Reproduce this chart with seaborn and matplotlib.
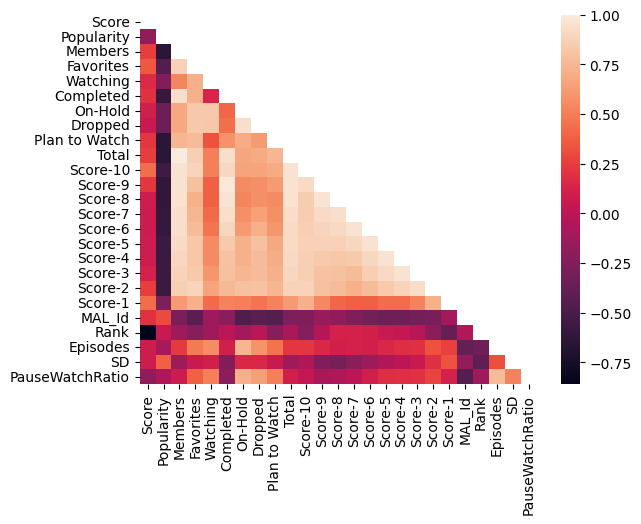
import numpy as np
import pandas as pd
import matplotlib
matplotlib.use("Agg")
import matplotlib.pyplot as plt
import seaborn as sns

labels = ["Score", "Popularity", "Members", "Favorites", "Watching", "Completed",
          "On-Hold", "Dropped", "Plan to Watch", "Total", "Score-10", "Score-9",
          "Score-8", "Score-7", "Score-6", "Score-5", "Score-4", "Score-3",
          "Score-2", "Score-1", "MAL_Id", "Rank", "Episodes", "SD", "PauseWatchRatio"]

# lower-triangle rows (correlation with each earlier column)
r_popularity = [-0.18]
r_members = [0.25, -0.65]
r_favorites = [0.35, -0.46, 0.87]
r_watching = [0.16, -0.25, 0.53, 0.72]
r_completed = [0.20, -0.59, 0.94, 0.72, 0.14]
r_onhold = [0.10, -0.35, 0.68, 0.83, 0.83, 0.40]
r_dropped = [0.06, -0.35, 0.68, 0.83, 0.82, 0.44, 0.94]
r_plan = [0.22, -0.65, 0.74, 0.77, 0.33, 0.58, 0.70, 0.62]
r_total = [0.25, -0.65, 1.00, 0.86, 0.50, 0.94, 0.67, 0.69, 0.74]
r_s10 = [0.43, -0.55, 0.95, 0.89, 0.50, 0.90, 0.66, 0.66, 0.69, 0.95]
r_s9 = [0.22, -0.62, 0.95, 0.79, 0.38, 0.98, 0.55, 0.57, 0.62, 0.95, 0.92]
r_s8 = [0.08, -0.62, 0.95, 0.72, 0.38, 0.96, 0.53, 0.57, 0.55, 0.95, 0.85, 0.96]
r_s7 = [0.07, -0.60, 0.94, 0.74, 0.42, 0.94, 0.57, 0.65, 0.57, 0.93, 0.85, 0.92, 0.94]
r_s6 = [0.07, -0.60, 0.94, 0.77, 0.46, 0.90, 0.62, 0.72, 0.60, 0.92, 0.86, 0.89, 0.91, 0.95]
r_s5 = [0.08, -0.57, 0.92, 0.82, 0.55, 0.84, 0.72, 0.79, 0.68, 0.92, 0.87, 0.87, 0.87, 0.90, 0.95]
r_s4 = [0.08, -0.57, 0.90, 0.82, 0.55, 0.80, 0.72, 0.77, 0.70, 0.91, 0.86, 0.84, 0.82, 0.84, 0.90, 0.95]
r_s3 = [0.12, -0.57, 0.88, 0.84, 0.60, 0.79, 0.74, 0.77, 0.72, 0.90, 0.86, 0.80, 0.79, 0.77, 0.86, 0.91, 0.95]
r_s2 = [0.25, -0.57, 0.86, 0.89, 0.66, 0.76, 0.79, 0.80, 0.74, 0.88, 0.88, 0.79, 0.77, 0.72, 0.77, 0.84, 0.88, 0.93]
r_s1 = [0.43, -0.27, 0.62, 0.72, 0.42, 0.52, 0.50, 0.46, 0.52, 0.62, 0.72, 0.54, 0.40, 0.38, 0.38, 0.43, 0.43, 0.52, 0.72]
r_malid = [0.20, 0.30, -0.28, -0.42, -0.12, -0.22, -0.47, -0.42, -0.45, -0.27, -0.25, -0.15,
           -0.18, -0.25, -0.31, -0.34, -0.34, -0.31, -0.29, -0.10]
r_rank = [-0.86, 0.06, -0.12, -0.23, -0.12, 0.00, -0.10, 0.00, -0.23, -0.08, -0.23, -0.03,
          0.12, 0.12, 0.10, 0.06, 0.04, -0.02, -0.22, -0.38, -0.04]
r_episodes = [0.08, -0.09, 0.23, 0.48, 0.56, 0.10, 0.74, 0.59, 0.45, 0.22, 0.22, 0.15,
              0.10, 0.12, 0.10, 0.15, 0.18, 0.19, 0.33, 0.26, -0.38, -0.33]
r_sd = [0.08, 0.38, -0.14, 0.06, 0.10, -0.25, 0.15, 0.15, 0.06, -0.12, -0.05, -0.25,
        -0.30, -0.22, -0.14, -0.05, 0.00, 0.06, 0.19, 0.33, -0.17, -0.40, 0.31]
r_pwr = [-0.18, -0.05, 0.07, 0.38, 0.50, -0.20, 0.72, 0.64, 0.50, 0.10, 0.04, -0.07,
         -0.05, 0.00, 0.10, 0.18, 0.19, 0.20, 0.28, 0.12, -0.45, -0.12, 0.77, 0.52]

rows = [[], r_popularity, r_members, r_favorites, r_watching, r_completed, r_onhold,
        r_dropped, r_plan, r_total, r_s10, r_s9, r_s8, r_s7, r_s6, r_s5, r_s4, r_s3,
        r_s2, r_s1, r_malid, r_rank, r_episodes, r_sd, r_pwr]

n = len(labels)
mat = np.eye(n)
for i, row in enumerate(rows):
    for j, v in enumerate(row):
        mat[i, j] = v
        mat[j, i] = v
corr = pd.DataFrame(mat, index=labels, columns=labels)
mask = np.triu(np.ones_like(mat, dtype=bool))

fig, ax = plt.subplots(figsize=(6.4, 4.8), dpi=100)
sns.heatmap(corr, mask=mask, ax=ax)
fig.savefig("out.png", bbox_inches="tight")
